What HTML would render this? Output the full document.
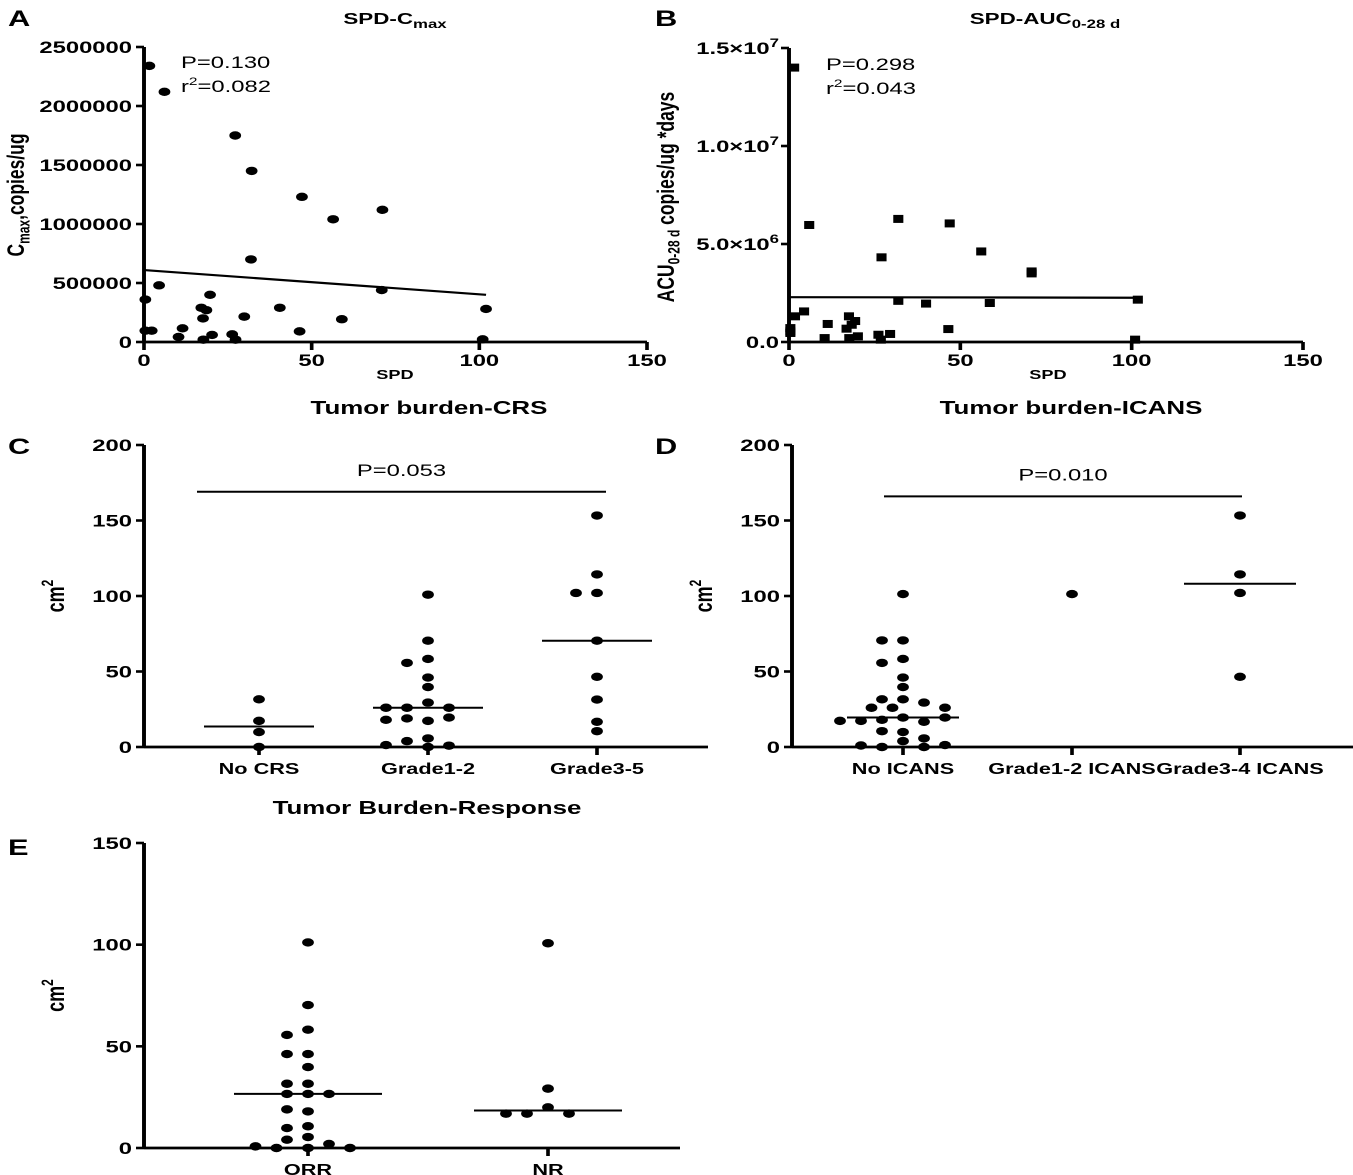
<!DOCTYPE html>
<html><head><meta charset="utf-8"><style>
html,body{margin:0;padding:0;background:#fff;}
svg{display:block;font-family:"Liberation Sans",Arial,sans-serif;}
</style></head><body>
<svg id="fig" width="1353" height="1175" viewBox="0 0 1353 1175" xmlns="http://www.w3.org/2000/svg">
<g id="root" transform="scale(1.4,1)"></g>
</svg>
<script>
// ---- Panel A data (SPD vs Cmax) ----
const aSPD=[1.6,6.1,27.2,32.1,47.1,71.1,56.4,31.9,4.5,0.4,19.7,70.9,17.1,18.6,40.5,102,17.6,29.9,59,0.4,2.3,11.5,10.3,20.3,26.3,46.4,17.7,27.3,101];
const aCmax=[2340000,2120000,1750000,1450000,1230000,1120000,1040000,700000,480000,360000,400000,440000,290000,270000,290000,280000,200000,215000,193000,96000,96000,116000,43000,60000,65000,90000,20000,20000,23000];
const aYTicks=[0,500000,1000000,1500000,2000000,2500000];
const aXTicks=[0,50,100,150];
// ---- Panel B data (SPD vs AUC) ----
const bSPD=[1.5,5.9,31.9,46.9,56.1,27,70.8,70.8,101.8,31.9,40,58.6,4.4,1.75,17.5,19.3,11.3,18.3,0.4,0.4,0.4,16.8,46.5,10.4,17.6,20.1,26.1,29.5,26.8,101];
const bAUC=[14000000,5970000,6280000,6050000,4620000,4320000,3600000,3500000,2160000,2100000,1960000,1990000,1560000,1310000,1310000,1070000,920000,880000,710000,540000,460000,680000,660000,200000,200000,290000,370000,410000,120000,120000];
const bYTicks=[0,5000000,10000000,15000000];
const bYLabels=[["0.0",""],["5.0×10","6"],["1.0×10","7"],["1.5×10","7"]];
const bXTicks=[0,50,100,150];
// ---- Panel C data (CRS) ----
const cCats=["No CRS","Grade1-2","Grade3-5"];
const cNo=[31.6,17.3,9.9,0];
const cG12=[100.9,70.4,58.3,55.7,46,39.7,29.4,26,26,26,17.3,18.9,19.5,18,5.7,3.9,0,0.9,1.3];
const cG35=[153.3,114.3,102,102,70.4,46.5,31.4,16.7,10.5];
const cYTicks=[0,50,100,150,200];
const cSigY=169, cSigText="P=0.053";
// ---- Panel D data (ICANS) ----
const dCats=["No ICANS","Grade1-2 ICANS","Grade3-4 ICANS"];
const dNo=[101.3,70.6,70.6,58.3,55.7,46,39.7,31.6,31.6,29.4,26,26,26,19.5,18,16.7,17.3,19.5,17.3,9.9,10.5,5.7,3.9,0,1,0,1.3];
const dG12=[101.3];
const dG34=[153.3,114.3,102,46.5];
const dYTicks=[0,50,100,150,200];
const dSigY=166, dSigText="P=0.010";
// ---- Panel E data (Response) ----
const eCats=["ORR","NR"];
const eORR=[101.1,70.3,58.2,55.6,46.2,46.2,39.8,31.6,31.6,26.6,26.6,26.6,18,19,10.7,9.8,5.4,4.1,2,0,0,0,0.8];
const eNR=[100.7,29.2,20,16.9,16.9,16.9];
const eYTicks=[0,50,100,150];

const S=1.4;
const NS="http://www.w3.org/2000/svg";
const root=document.getElementById('root');
function X(px){return px/S;}
function el(tag,attrs,name,parent){
  const e=document.createElementNS(NS,tag);
  for(const k in attrs) e.setAttribute(k,attrs[k]);
  
  
  (parent||root).appendChild(e);
  return e;
}
function line(x1,y1,x2,y2,name,w){return el('line',{x1:X(x1),y1:y1,x2:X(x2),y2:y2,stroke:'#000','stroke-width':w||2.4},name);}
function text(x,y,str,name,size,weight,anchor){
  const t=el('text',{x:X(x),y:y,'font-size':size||16,'font-weight':weight||'bold','text-anchor':anchor||'middle',fill:'#000'},name);
  t.textContent=str; return t;
}
function tspan(parent,str,opts,name){
  const t=el('tspan',opts||{},name,parent); t.textContent=str; return t;
}
function median(a){const s=[...a].sort((p,q)=>p-q);const n=s.length;return n%2?s[(n-1)/2]:(s[n/2-1]+s[n/2])/2;}
function fit(xs,ys){const n=xs.length;let mx=0,my=0;for(let i=0;i<n;i++){mx+=xs[i];my+=ys[i];}mx/=n;my/=n;let sxy=0,sxx=0;for(let i=0;i<n;i++){sxy+=(xs[i]-mx)*(ys[i]-my);sxx+=(xs[i]-mx)**2;}const b=sxy/sxx;return [my-b*mx,b];}

function yAxis(ax,sy,ticks,labelFn,prefix,labelX){
  line(ax,sy(ticks[ticks.length-1]),ax,sy(ticks[0]),prefix+'-y-axis',2.8);
  ticks.forEach((v,i)=>{
    line(ax-8,sy(v),ax,sy(v),prefix+'-y-tick',2.6);
    labelFn(v,i,labelX,sy(v)+6);
  });
}
function simpleLabel(prefix){return (v,i,lx,ly)=>{text(lx,ly,String(v),prefix+'-y-tick-label',17,'bold','end');};}

// ===== Panel A =====
(function(){
  const sx=v=>144+v*(647-144)/150, sy=v=>342-v/2500000*295;
  text(8,26,'A','panel-label-a',22,'bold','start');
  const t=text(395,24,'SPD-C','panel-a-title',16); tspan(t,'max',{'font-size':12,dy:4},'title-subscript');
  yAxis(144,sy,aYTicks,simpleLabel('panel-a'),'panel-a',132);
  line(144,342,647,342,'panel-a-x-axis',2.8);
  aXTicks.forEach(v=>{line(sx(v),342,sx(v),350,'panel-a-x-tick',2.6);text(sx(v),366,String(v),'panel-a-x-tick-label',17);});
  text(395,379,'SPD','panel-a-x-axis-title',13);
  const yl=el('text',{transform:`translate(${X(24)},195) rotate(-90)`,'font-size':17.5,'font-weight':'bold','text-anchor':'middle'},'panel-a-y-axis-title');
  tspan(yl,'C',{},'ylabel-part'); tspan(yl,'max',{'font-size':12,dy:4},'ylabel-subscript'); tspan(yl,',copies/ug',{dy:-4},'ylabel-part');
  text(181,68,'P=0.130','panel-a-p-value',17,'normal','start');
  const r=text(181,92,'r','panel-a-r-squared',17,'normal','start'); tspan(r,'2',{'font-size':11,dy:-7},'sup'); tspan(r,'=0.082',{dy:7},'r2-value');
  aSPD.forEach((x,i)=>{
    el('circle',{cx:X(sx(x)),cy:sy(aCmax[i]),r:4.2,fill:'#000'},'panel-a-point');
  });
  const [a0,b]=fit(aSPD,aCmax); const xm=Math.max(...aSPD);
  line(sx(0),sy(a0),sx(xm),sy(a0+b*xm),'panel-a-regression-line',2.2);
})();

// ===== Panel B =====
(function(){
  const sx=v=>789+v*(1303-789)/150, sy=v=>342-v/15000000*294;
  text(655,26,'B','panel-label-b',22,'bold','start');
  const t=text(1045,24,'SPD-AUC','panel-b-title',16); tspan(t,'0-28 d',{'font-size':12,dy:4},'title-subscript');
  yAxis(789,sy,bYTicks,(v,i,lx,ly)=>{const tt=text(lx,ly,bYLabels[i][0],'panel-b-y-tick-label',17,'bold','end'); if(bYLabels[i][1]) tspan(tt,bYLabels[i][1],{'font-size':12,dy:-7},'tick-exponent');},'panel-b',779);
  line(789,342,1303,342,'panel-b-x-axis',2.8);
  bXTicks.forEach(v=>{line(sx(v),342,sx(v),350,'panel-b-x-tick',2.6);text(sx(v),366,String(v),'panel-b-x-tick-label',17);});
  text(1048,379,'SPD','panel-b-x-axis-title',13);
  const yl=el('text',{transform:`translate(${X(674)},197) rotate(-90)`,'font-size':17.5,'font-weight':'bold','text-anchor':'middle'},'panel-b-y-axis-title');
  tspan(yl,'ACU',{},'ylabel-part'); tspan(yl,'0-28 d',{'font-size':12,dy:4},'ylabel-subscript'); tspan(yl,' copies/ug *days',{dy:-4},'ylabel-part');
  text(826,70,'P=0.298','panel-b-p-value',17,'normal','start');
  const r=text(826,94,'r','panel-b-r-squared',17,'normal','start'); tspan(r,'2',{'font-size':11,dy:-7},'sup'); tspan(r,'=0.043',{dy:7},'r2-value');
  bSPD.forEach((x,i)=>{
    el('rect',{x:X(sx(x))-3.6,y:sy(bAUC[i])-4,width:7.2,height:8,fill:'#000'},'panel-b-point');
  });
  const [a0,b]=fit(bSPD,bAUC); const xm=Math.max(...bSPD);
  line(sx(0),sy(a0),sx(xm),sy(a0+b*xm),'panel-b-regression-line',2.2);
})();

function swarm(vals,cx,sy){
  const placed=[];const step=10.5;
  return vals.map(v=>{
    const y=sy(v);
    for(let k=0;k<40;k++){
      const off=(k===0?0:(k%2?-1:1)*Math.ceil(k/2))*step;
      const x=cx+off;
      if(!placed.some(p=>((p[0]-x)/20)**2+((p[1]-y)/8.5)**2<1)){placed.push([x,y]);return x;}
    }
    return cx;
  });
}
function columnPanel(o){
  const sy=v=>o.y0-v/o.yMax*(o.y0-o.yTop);
  text(o.letterX,o.letterY,o.letter,'panel-label-'+o.letter.toLowerCase(),22,'bold','start');
  text(o.titleX,o.titleY,o.title,o.prefix+'-title',18.5);
  yAxis(o.ax,sy,o.ticks,simpleLabel(o.prefix),o.prefix,o.ax-12);
  line(o.ax,o.y0,o.xEnd,o.y0,o.prefix+'-x-axis',2.8);
  const yl=el('text',{transform:`translate(${X(o.ax-80)},${(o.y0+o.yTop)/2}) rotate(-90)`,'font-size':18,'font-weight':'bold','text-anchor':'middle'},o.prefix+'-y-axis-title');
  tspan(yl,'cm',{},'ylabel-part'); tspan(yl,'2',{'font-size':12,dy:-8},'ylabel-sup');
  o.groups.forEach((g,gi)=>{
    const cx=o.catX[gi];
    line(cx,o.y0,cx,o.y0+8,o.prefix+'-x-tick',2.6);
    text(cx,o.y0+27,o.cats[gi],o.prefix+'-category-label',15.5);
    const xs=swarm(g,cx,sy);
    g.forEach((v,i)=>{el('circle',{cx:X(xs[i]),cy:sy(v),r:4.2,fill:'#000'},o.prefix+'-point');});
    if(g.length>1){const m=median(g);line(cx-o.mw,sy(m),cx+o.mw,sy(m),o.prefix+'-median-line',2);}
  });
  if(o.sig){
    line(o.sig.x1,sy(o.sig.y),o.sig.x2,sy(o.sig.y),o.prefix+'-significance-bar',2);
    text((o.sig.x1+o.sig.x2)/2,sy(o.sig.y)-16,o.sig.text,o.prefix+'-p-value',17,'normal');
  }
}
columnPanel({prefix:'panel-c',letter:'C',letterX:8,letterY:454,title:'Tumor burden-CRS',titleX:429,titleY:414,
  ax:144,y0:747,yTop:445,yMax:200,ticks:cYTicks,xEnd:708,catX:[259,428,597],cats:cCats,groups:[cNo,cG12,cG35],mw:55,
  sig:{x1:197,x2:606,y:cSigY,text:cSigText}});
columnPanel({prefix:'panel-d',letter:'D',letterX:655,letterY:454,title:'Tumor burden-ICANS',titleX:1071,titleY:414,
  ax:792,y0:747,yTop:445,yMax:200,ticks:dYTicks,xEnd:1353,catX:[903,1072,1240],cats:dCats,groups:[dNo,dG12,dG34],mw:56,
  sig:{x1:884,x2:1242,y:dSigY,text:dSigText}});
columnPanel({prefix:'panel-e',letter:'E',letterX:8,letterY:855,title:'Tumor Burden-Response',titleX:427,titleY:814,
  ax:144,y0:1148,yTop:843,yMax:150,ticks:eYTicks,xEnd:680,catX:[308,548],cats:eCats,groups:[eORR,eNR],mw:74});
</script>
</body></html>
